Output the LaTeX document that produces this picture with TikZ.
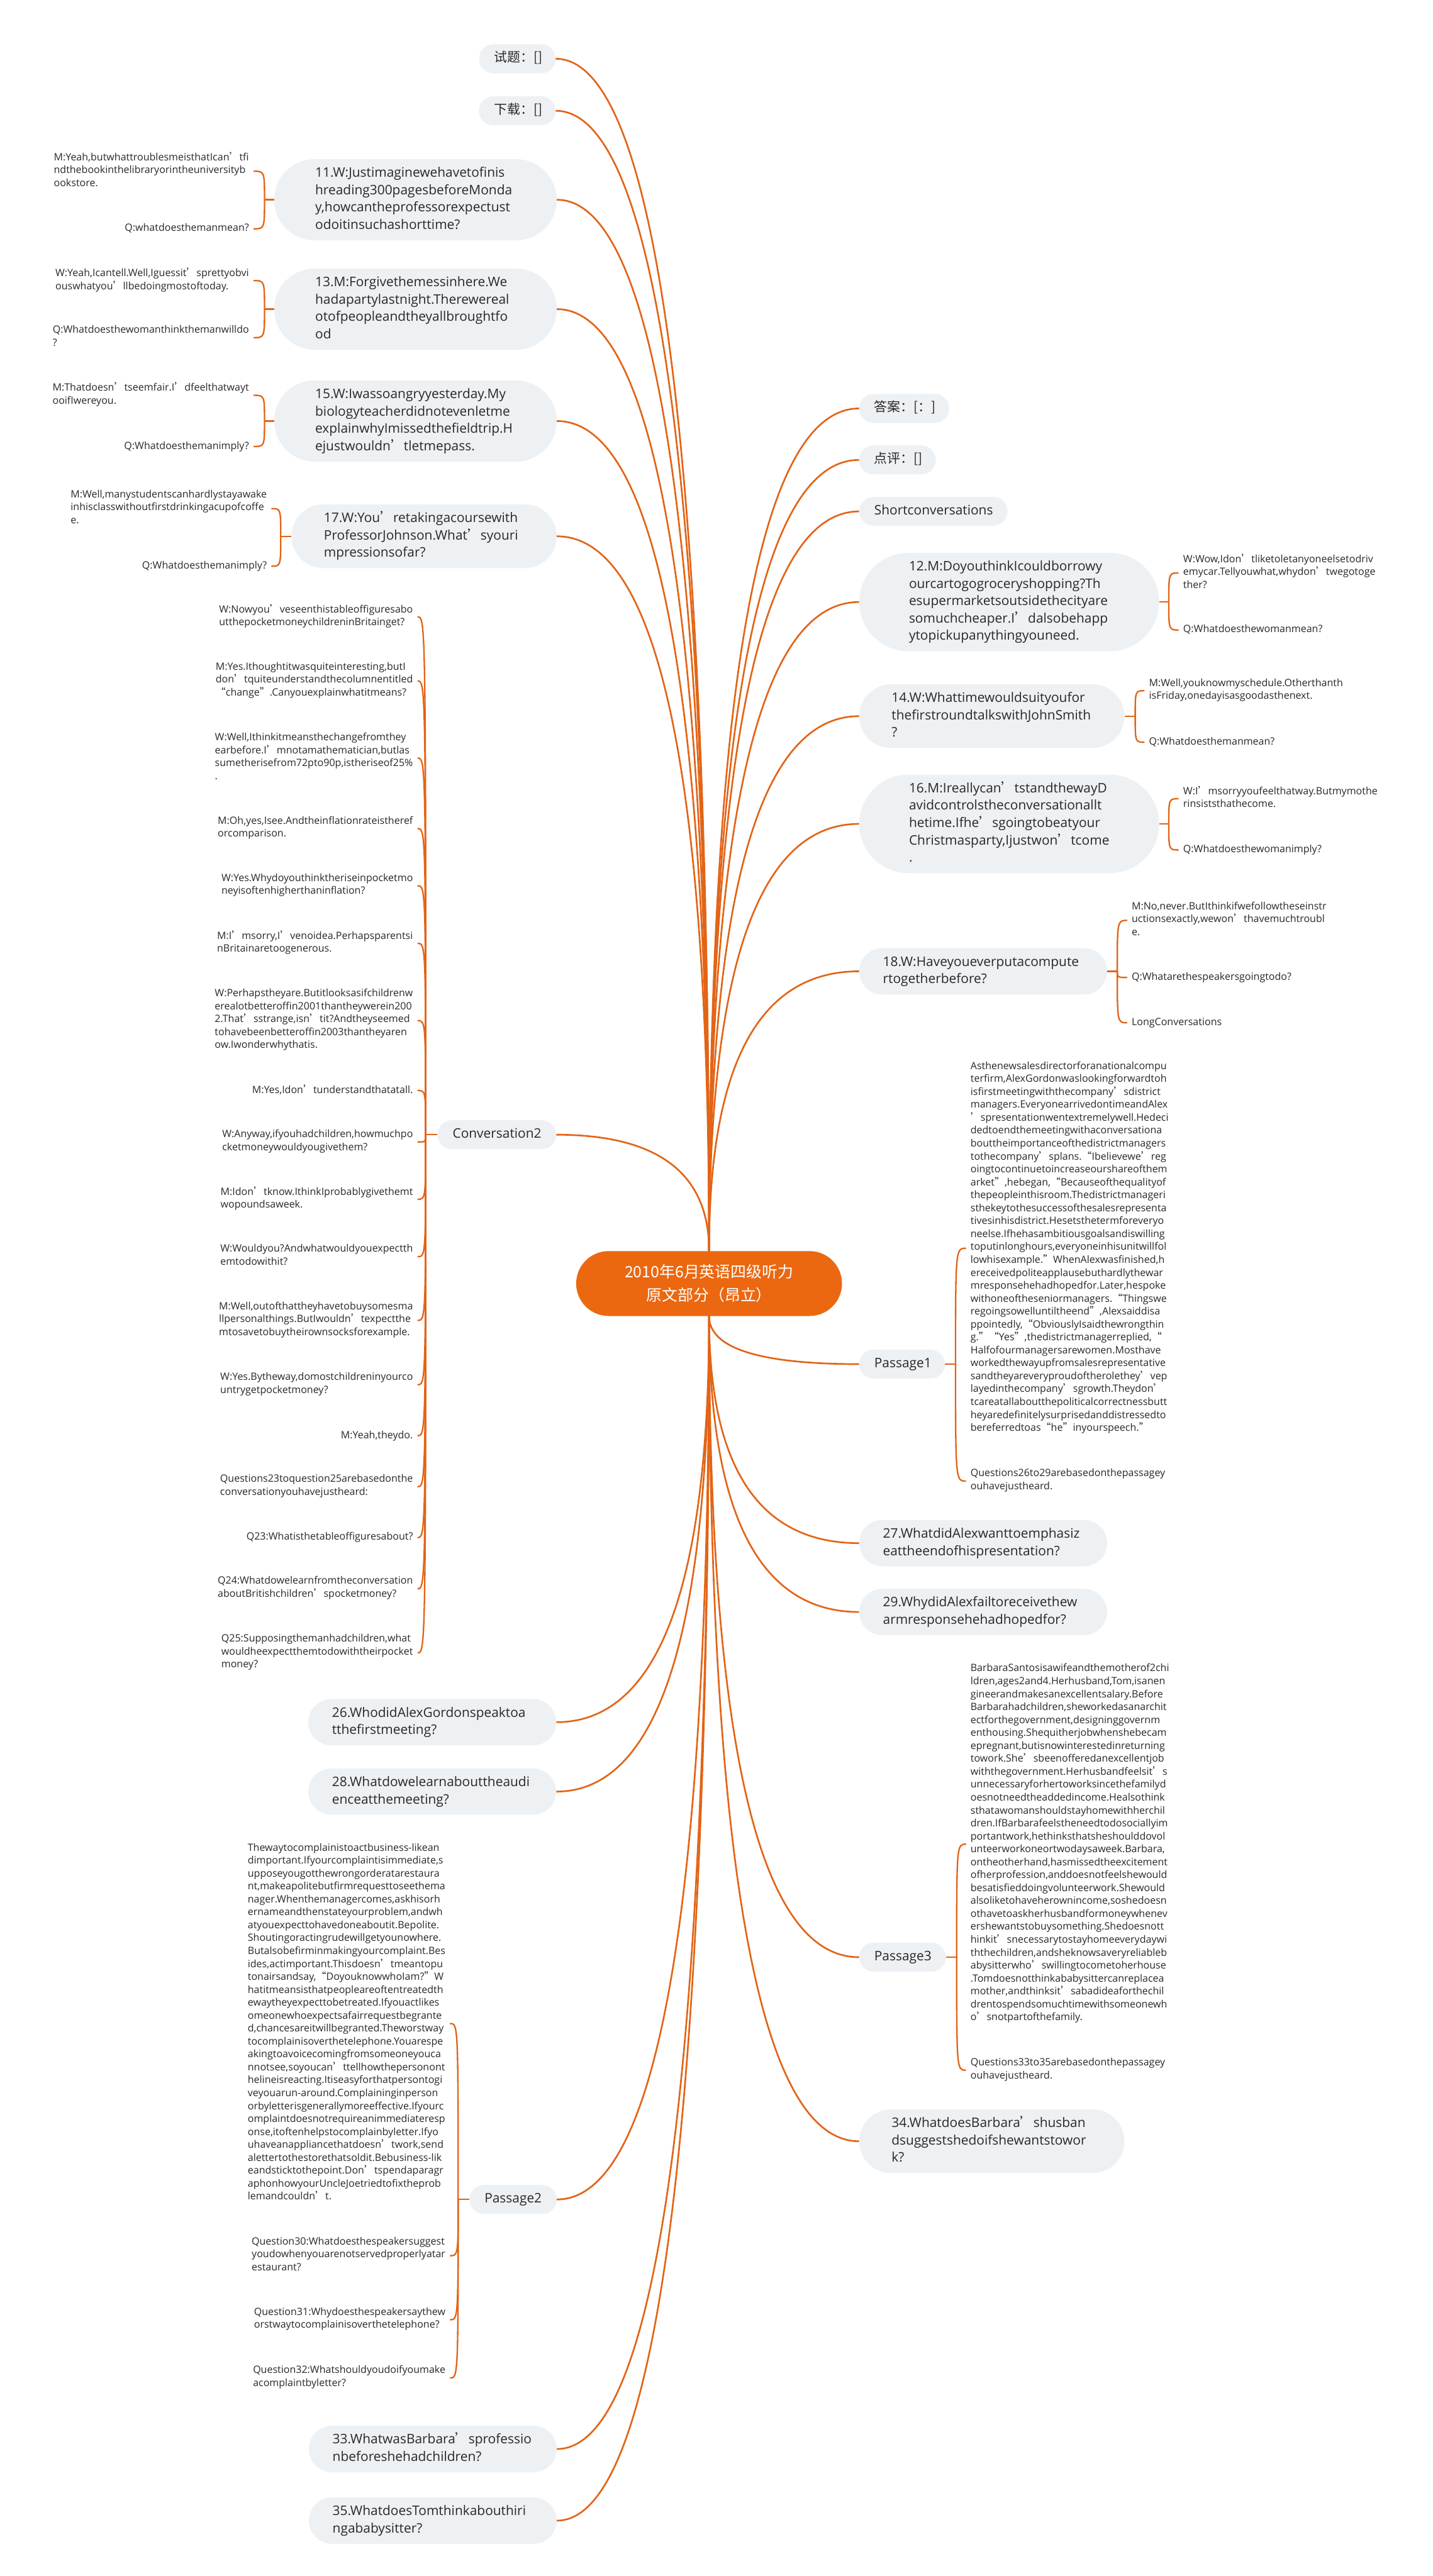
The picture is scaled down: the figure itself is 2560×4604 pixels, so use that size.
\documentclass[tikz,border=0pt]{standalone}
\usepackage{fontspec}
\setmainfont{Open Sans}
\newfontfamily\cjk{Noto Sans CJK SC}
\usetikzlibrary{calc}
\hyphenpenalty=10000
\exhyphenpenalty=10000
\newcommand\ap{{\cjk ’}}
\newcommand\oq{{\cjk “}}
\newcommand\cq{{\cjk ”}}
\definecolor{org}{RGB}{235,104,17}
\definecolor{lin}{RGB}{226,100,22}
\definecolor{bxf}{RGB}{238,241,244}
\definecolor{txt}{RGB}{40,40,40}
\newcommand\mc[2]{\draw[br] (#1) .. controls ($(#1)!0.667!(#1 |- #2)$) and ($(#2)!0.667!(#1 |- #2)$) .. (#2);}
\newcommand\bkc[2]{\draw[bk] (#1) .. controls (#1 |- #2) .. (#2);}
\begin{document}
\begin{tikzpicture}[x=1pt,y=-1pt,
 bx/.style={fill=bxf, text=txt, align=left, inner ysep=10.5pt, font=\fontsize{23.5}{31}\selectfont, execute at begin node=\strut, execute at end node=\strut},
 b1/.style={bx, rounded corners=26pt, inner xsep=27pt},
 b2/.style={bx, rounded corners=41.5pt, inner xsep=42.5pt, text width=358pt},
 b3/.style={bx, rounded corners=57pt, inner xsep=58pt, text width=358pt},
 b4/.style={bx, rounded corners=72.5pt, inner xsep=73.5pt, text width=358pt},
 b5/.style={bx, rounded corners=88pt, inner xsep=89pt, text width=358pt},
 cjkf/.style={font=\cjk\fontsize{23.5}{31}\selectfont},
 lf/.style={text=txt, align=left, inner xsep=8pt, inner ysep=0pt, font=\fontsize{18}{23.1}\selectfont, execute at begin node=\strut, execute at end node=\strut},
 br/.style={draw=lin, line width=3pt},
 bk/.style={draw=lin, line width=2.6pt}
]
\fill[white] (0,0) rectangle (2560,4604);
\useasboundingbox (0,0) rectangle (2560,4604);

% centre
\node[fill=org, text=white, rounded corners=58pt, minimum width=475pt, minimum height=116pt, align=center, inner sep=0pt, font=\cjk\fontsize{28}{42}\selectfont] (C) at (1267,2294) {2010年6月英语四级听力\\原文部分（昂立）};

% left boxes
\node[b1, cjkf, text width=83pt, anchor=east] (shiti) at (993,105) {试题：[]};
\node[b1, cjkf, text width=83pt, anchor=east] (xiazai) at (993,198) {下载：[]};
\node[b4, anchor=east] (t11) at (995,357) {11.W:Justimaginewehavetofinis\\hreading300pagesbeforeMonda\\y,howcantheprofessorexpectust\\odoitinsuchashorttime?};
\node[b4, anchor=east] (t13) at (995,552.5) {13.M:Forgivethemessinhere.We\\hadapartylastnight.Therewereal\\otofpeopleandtheyallbroughtfo\\od};
\node[b4, anchor=east] (t15) at (995,752.5) {15.W:Iwassoangryyesterday.My\\biologyteacherdidnotevenletme\\explainwhyImissedthefieldtrip.H\\ejustwouldn\ap tletmepass.};
\node[b3, anchor=east] (t17) at (995,958.5) {17.W:You\ap retakingacoursewith\\ProfessorJohnson.What\ap syouri\\mpressionsofar?};
\node[b1, text width=158pt, anchor=east] (conv) at (994,2028) {Conversation2};
\node[b2, anchor=east] (t26) at (994,3078) {26.WhodidAlexGordonspeaktoa\\tthefirstmeeting?};
\node[b2, anchor=east] (t28) at (994,3202) {28.Whatdowelearnabouttheaudi\\enceatthemeeting?};
\node[b1, text width=102pt, anchor=east] (pas2) at (995,3931) {Passage2};
\node[b2, anchor=east] (t33) at (995,4377) {33.WhatwasBarbara\ap sprofessio\\nbeforeshehadchildren?};
\node[b2, anchor=east] (t35) at (995,4505) {35.WhatdoesTomthinkabouthiri\\ngababysitter?};

% right boxes
\node[b1, cjkf, text width=107pt, anchor=west] (daan) at (1535,730) {答案：[：]};
\node[b1, cjkf, text width=83pt, anchor=west] (dianping) at (1535,822) {点评：[]};
\node[b1, text width=211pt, anchor=west] (short) at (1535,914) {Shortconversations};
\node[b5, anchor=west] (t12) at (1535,1076) {12.M:DoyouthinkIcouldborrowy\\ourcartogogroceryshopping?Th\\esupermarketsoutsidethecityare\\somuchcheaper.I\ap dalsobehapp\\ytopickupanythingyouneed.};
\node[b3, anchor=west] (t14) at (1535,1280) {14.W:Whattimewouldsuityoufor\\thefirstroundtalkswithJohnSmith\\?};
\node[b5, anchor=west] (t16) at (1535,1472.5) {16.M:Ireallycan\ap tstandthewayD\\avidcontrolstheconversationallt\\hetime.Ifhe\ap sgoingtobeatyour\\Christmasparty,Ijustwon\ap tcome\\.};
\node[b2, anchor=west] (t18) at (1535,1736) {18.W:Haveyoueverputacompute\\rtogetherbefore?};
\node[b1, text width=99pt, anchor=west] (pas1) at (1535,2438) {Passage1};
\node[b2, anchor=west] (t27) at (1535,2758) {27.WhatdidAlexwanttoemphasiz\\eattheendofhispresentation?};
\node[b2, anchor=west] (t29) at (1535,2881) {29.WhydidAlexfailtoreceivethew\\armresponsehehadhopedfor?};
\node[b1, text width=101pt, anchor=west] (pas3) at (1535,3498) {Passage3};
\node[b3, anchor=west] (t34) at (1535,3827) {34.WhatdoesBarbara\ap shusban\\dsuggestshedoifshewantstowor\\k?};

% leaves of short conversations (left)
\node[lf, anchor=east] (l11a) at (453,306) {M:Yeah,butwhattroublesmeisthatIcan\ap tfi\\ndthebookinthelibraryorintheuniversityb\\ookstore.};
\node[lf, anchor=east] (l11b) at (453,409) {Q:whatdoesthemanmean?};
\node[lf, anchor=east] (l13a) at (453,501.5) {W:Yeah,Icantell.Well,Iguessit\ap sprettyobvi\\ouswhatyou\ap llbedoingmostoftoday.};
\node[lf, anchor=east] (l13b) at (453,603.5) {Q:Whatdoesthewomanthinkthemanwilldo\\?};
\node[lf, anchor=east] (l15a) at (453,706.5) {M:Thatdoesn\ap tseemfair.I\ap dfeelthatwayt\\ooifIwereyou.};
\node[lf, anchor=east] (l15b) at (453,798) {Q:Whatdoesthemanimply?};
\node[lf, anchor=east] (l17a) at (485,909) {M:Well,manystudentscanhardlystayawake\\inhisclasswithoutfirstdrinkingacupofcoffe\\e.};
\node[lf, anchor=east] (l17b) at (485,1012) {Q:Whatdoesthemanimply?};

% leaves of short conversations (right)
\node[lf, anchor=west] (l12a) at (2106,1024) {W:Wow,Idon\ap tliketoletanyoneelsetodriv\\emycar.Tellyouwhat,whydon\ap twegotoge\\ther?};
\node[lf, anchor=west] (l12b) at (2106,1126) {Q:Whatdoesthewomanmean?};
\node[lf, anchor=west] (l14a) at (2045,1234.5) {M:Well,youknowmyschedule.Otherthanth\\isFriday,onedayisasgoodasthenext.};
\node[lf, anchor=west] (l14b) at (2045,1326.5) {Q:Whatdoesthemanmean?};
\node[lf, anchor=west] (l16a) at (2106,1427.5) {W:I\ap msorryyoufeelthatway.Butmymothe\\rinsiststhathecome.};
\node[lf, anchor=west] (l16b) at (2106,1519) {Q:Whatdoesthewomanimply?};
\node[lf, anchor=west] (l18a) at (2014,1645) {M:No,never.ButIthinkifwefollowtheseinstr\\uctionsexactly,wewon\ap thavemuchtroubl\\e.};
\node[lf, anchor=west] (l18b) at (2014,1747) {Q:Whatarethespeakersgoingtodo?};
\node[lf, anchor=west] (l18c) at (2014,1828) {LongConversations};

% conversation 2 leaves
\node[lf, anchor=east] (c1) at (746,1102.5) {W:Nowyou\ap veseenthistableoffiguresabo\\utthepocketmoneychildreninBritainget?};
\node[lf, anchor=east] (c2) at (746,1217) {M:Yes.Ithoughtitwasquiteinteresting,butI\\don\ap tquiteunderstandthecolumnentitled\\\oq change\cq.Canyouexplainwhatitmeans?};
\node[lf, anchor=east] (c3) at (746,1355) {W:Well,Ithinkitmeansthechangefromthey\\earbefore.I\ap mnotamathematician,butlas\\sumetherisefrom72pto90p,istheriseof25\%\\.};
\node[lf, anchor=east] (c4) at (746,1481) {M:Oh,yes,Isee.Andtheinflationrateistheref\\orcomparison.};
\node[lf, anchor=east] (c5) at (746,1583) {W:Yes.Whydoyouthinktheriseinpocketmo\\neyisoftenhigherthaninflation?};
\node[lf, anchor=east] (c6) at (746,1686) {M:I\ap msorry,I\ap venoidea.Perhapsparentsi\\nBritainaretoogenerous.};
\node[lf, anchor=east] (c7) at (746,1824) {W:Perhapstheyare.Butitlooksasifchildrenw\\erealotbetteroffin2001thantheywerein200\\2.That\ap sstrange,isn\ap tit?Andtheyseemed\\tohavebeenbetteroffin2003thantheyaren\\ow.Iwonderwhythatis.};
\node[lf, anchor=east] (c8) at (746,1949) {M:Yes,Idon\ap tunderstandthatatall.};
\node[lf, anchor=east] (c9) at (746,2041) {W:Anyway,ifyouhadchildren,howmuchpo\\cketmoneywouldyougivethem?};
\node[lf, anchor=east] (c10) at (746,2143.5) {M:Idon\ap tknow.IthinkIprobablygivethemt\\wopoundsaweek.};
\node[lf, anchor=east] (c11) at (746,2246) {W:Wouldyou?Andwhatwouldyouexpectth\\emtodowithit?};
\node[lf, anchor=east] (c12) at (746,2360) {M:Well,outofthattheyhavetobuysomesma\\llpersonalthings.ButIwouldn\ap texpectthe\\mtosavetobuytheirownsocksforexample.};
\node[lf, anchor=east] (c13) at (746,2475) {W:Yes.Bytheway,domostchildreninyourco\\untrygetpocketmoney?};
\node[lf, anchor=east] (c14) at (746,2566) {M:Yeah,theydo.};
\node[lf, anchor=east] (c15) at (746,2657) {Questions23toquestion25arebasedonthe\\conversationyouhavejustheard:};
\node[lf, anchor=east] (c16) at (746,2748) {Q23:Whatisthetableoffiguresabout?};
\node[lf, anchor=east] (c17) at (746,2839.5) {Q24:Whatdowelearnfromtheconversation\\aboutBritishchildren\ap spocketmoney?};
\node[lf, anchor=east] (c18) at (746,2954) {Q25:Supposingthemanhadchildren,what\\wouldheexpectthemtodowiththeirpocket\\money?};

% passage 1 leaves
\node[lf, anchor=west] (p1a) at (1726,2231) {Asthenewsalesdirectorforanationalcompu\\terfirm,AlexGordonwaslookingforwardtoh\\isfirstmeetingwiththecompany\ap sdistrict\\managers.EveryonearrivedontimeandAlex\\\ap spresentationwentextremelywell.Hedeci\\dedtoendthemeetingwithaconversationa\\bouttheimportanceofthedistrictmanagers\\tothecompany\ap splans.\oq Ibelievewe\ap reg\\oingtocontinuetoincreaseourshareofthem\\arket\cq,hebegan,\oq Becauseofthequalityof\\thepeopleinthisroom.Thedistrictmanageri\\sthekeytothesuccessofthesalesrepresenta\\tivesinhisdistrict.Hesetsthetermforeveryo\\neelse.Ifhehasambitiousgoalsandiswilling\\toputinlonghours,everyoneinhisunitwillfol\\lowhisexample.\cq WhenAlexwasfinished,h\\ereceivedpoliteapplausebuthardlythewar\\mresponsehehadhopedfor.Later,hespoke\\withoneoftheseniormanagers.\oq Thingswe\\regoingsowelluntiltheend\cq,Alexsaiddisa\\ppointedly,\oq ObviouslyIsaidthewrongthin\\g.\cq\oq Yes\cq,thedistrictmanagerreplied,\oq\\Halfofourmanagersarewomen.Mosthave\\workedthewayupfromsalesrepresentative\\sandtheyareveryproudoftherolethey\ap vep\\layedinthecompany\ap sgrowth.Theydon\ap\\tcareatallaboutthepoliticalcorrectnessbutt\\heyaredefinitelysurprisedanddistressedto\\bereferredtoas\oq he\cq inyourspeech.\cq};
\node[lf, anchor=west] (p1b) at (1726,2647) {Questions26to29arebasedonthepassagey\\ouhavejustheard.};

% passage 3 leaves
\node[lf, anchor=west] (p3a) at (1726,3296) {BarbaraSantosisawifeandthemotherof2chi\\ldren,ages2and4.Herhusband,Tom,isanen\\gineerandmakesanexcellentsalary.Before\\Barbarahadchildren,sheworkedasanarchit\\ectforthegovernment,designinggovernm\\enthousing.Shequitherjobwhenshebecam\\epregnant,butisnowinterestedinreturning\\towork.She\ap sbeenofferedanexcellentjob\\withthegovernment.Herhusbandfeelsit\ap s\\unnecessaryforhertoworksincethefamilyd\\oesnotneedtheaddedincome.Healsothink\\sthatawomanshouldstayhomewithherchil\\dren.IfBarbarafeelstheneedtodosociallyim\\portantwork,hethinksthatsheshoulddovol\\unteerworkoneortwodaysaweek.Barbara,\\ontheotherhand,hasmissedtheexcitement\\ofherprofession,anddoesnotfeelshewould\\besatisfieddoingvolunteerwork.Shewould\\alsoliketohaveherownincome,soshedoesn\\othavetoaskherhusbandformoneywhenev\\ershewantstobuysomething.Shedoesnott\\hinkit\ap snecessarytostayhomeeverydaywi\\ththechildren,andsheknowsaveryreliableb\\abysitterwho\ap swillingtocometoherhouse\\.Tomdoesnotthinkababysittercanreplacea\\mother,andthinksit\ap sabadideaforthechil\\drentospendsomuchtimewithsomeonewh\\o\ap snotpartofthefamily.};
\node[lf, anchor=west] (p3b) at (1726,3700) {Questions33to35arebasedonthepassagey\\ouhavejustheard.};

% passage 2 leaves
\node[lf, anchor=east] (p2a) at (804,3616.5) {Thewaytocomplainistoactbusiness-likean\\dimportant.Ifyourcomplaintisimmediate,s\\upposeyougotthewrongorderatarestaura\\nt,makeapolitebutfirmrequesttoseethema\\nager.Whenthemanagercomes,askhisorh\\ernameandthenstateyourproblem,andwh\\atyouexpecttohavedoneaboutit.Bepolite.\\Shoutingoractingrudewillgetyounowhere.\\Butalsobefirminmakingyourcomplaint.Bes\\ides,actimportant.Thisdoesn\ap tmeantopu\\tonairsandsay,\oq DoyouknowwhoIam?\cq W\\hatitmeansisthatpeopleareoftentreatedth\\ewaytheyexpecttobetreated.Ifyouactlikes\\omeonewhoexpectsafairrequestbegrante\\d,chancesareitwillbegranted.Theworstway\\tocomplainisoverthetelephone.Youarespe\\akingtoavoicecomingfromsomeoneyouca\\nnotsee,soyoucan\ap ttellhowthepersonont\\helineisreacting.Itiseasyforthatpersontogi\\veyouarun-around.Complaininginperson\\orbyletterisgenerallymoreeffective.Ifyourc\\omplaintdoesnotrequireanimmediateresp\\onse,itoftenhelpstocomplainbyletter.Ifyo\\uhaveanappliancethatdoesn\ap twork,send\\alettertothestorethatsoldit.Bebusiness-lik\\eandsticktothepoint.Don\ap tspendaparagr\\aphonhowyourUncleJoetriedtofixtheprob\\lemandcouldn\ap t.};
\node[lf, anchor=east] (q30) at (804,4031.5) {Question30:Whatdoesthespeakersuggest\\youdowhenyouarenotservedproperlyatar\\estaurant?};
\node[lf, anchor=east] (q31) at (804,4146) {Question31:Whydoesthespeakersaythew\\orstwaytocomplainisoverthetelephone?};
\node[lf, anchor=east] (q32) at (804,4250) {Question32:Whatshouldyoudoifyoumake\\acomplaintbyletter?};

% main branches
\mc{C.north}{shiti.east}
\mc{C.north}{xiazai.east}
\mc{C.north}{t11.east}
\mc{C.north}{t13.east}
\mc{C.north}{t15.east}
\mc{C.north}{t17.east}
\mc{C.north}{conv.east}
\mc{C.south}{t26.east}
\mc{C.south}{t28.east}
\mc{C.south}{pas2.east}
\mc{C.south}{t33.east}
\mc{C.south}{t35.east}
\mc{C.north}{daan.west}
\mc{C.north}{dianping.west}
\mc{C.north}{short.west}
\mc{C.north}{t12.west}
\mc{C.north}{t14.west}
\mc{C.north}{t16.west}
\mc{C.north}{t18.west}
\mc{C.south}{pas1.west}
\mc{C.south}{t27.west}
\mc{C.south}{t29.west}
\mc{C.south}{pas3.west}
\mc{C.south}{t34.west}

% brackets
\coordinate (s11) at ($(t11.west)+(-17,0)$);
\coordinate (s13) at ($(t13.west)+(-17,0)$);
\coordinate (s15) at ($(t15.west)+(-17,0)$);
\coordinate (s17) at ($(t17.west)+(-19,0)$);
\coordinate (sc) at ($(conv.west)+(-21,0)$);
\coordinate (sp2) at ($(pas2.west)+(-20,0)$);
\coordinate (s12) at ($(t12.east)+(17,0)$);
\coordinate (s14) at ($(t14.east)+(19,0)$);
\coordinate (s16) at ($(t16.east)+(17,0)$);
\coordinate (s18) at ($(t18.east)+(18,0)$);
\coordinate (sp1) at ($(pas1.east)+(19,0)$);
\coordinate (sp3) at ($(pas3.east)+(19,0)$);

\draw[bk] (t11.west) -- (s11); \bkc{s11}{l11a.east} \bkc{s11}{l11b.east}
\draw[bk] (t13.west) -- (s13); \bkc{s13}{l13a.east} \bkc{s13}{l13b.east}
\draw[bk] (t15.west) -- (s15); \bkc{s15}{l15a.east} \bkc{s15}{l15b.east}
\draw[bk] (t17.west) -- (s17); \bkc{s17}{l17a.east} \bkc{s17}{l17b.east}
\draw[bk] (t12.east) -- (s12); \bkc{s12}{l12a.west} \bkc{s12}{l12b.west}
\draw[bk] (t14.east) -- (s14); \bkc{s14}{l14a.west} \bkc{s14}{l14b.west}
\draw[bk] (t16.east) -- (s16); \bkc{s16}{l16a.west} \bkc{s16}{l16b.west}
\draw[bk] (t18.east) -- (s18); \bkc{s18}{l18a.west} \bkc{s18}{l18b.west} \bkc{s18}{l18c.west}
\draw[bk] (conv.west) -- (sc);
\foreach \k in {1,...,18} {\bkc{sc}{c\k.east}}
\draw[bk] (pas1.east) -- (sp1); \bkc{sp1}{p1a.west} \bkc{sp1}{p1b.west}
\draw[bk] (pas3.east) -- (sp3); \bkc{sp3}{p3a.west} \bkc{sp3}{p3b.west}
\draw[bk] (pas2.west) -- (sp2); \bkc{sp2}{p2a.east} \bkc{sp2}{q30.east} \bkc{sp2}{q31.east} \bkc{sp2}{q32.east}
\end{tikzpicture}
\end{document}
